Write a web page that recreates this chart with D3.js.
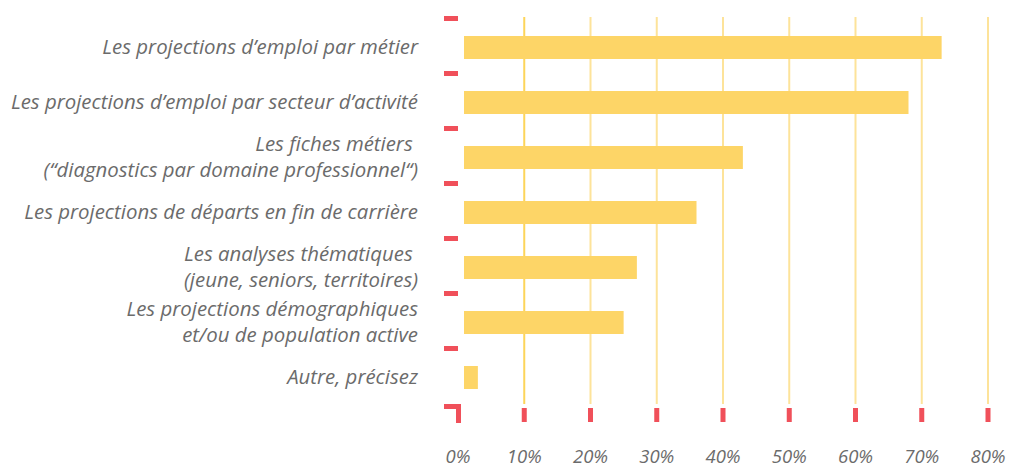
<!DOCTYPE html>
<html>
<head>
<meta charset="utf-8">
<script src="https://cdn.jsdelivr.net/npm/d3@7"></script>
<style>
  body { margin: 0; background: #fff; }
  text { font-family: "Open Sans", sans-serif; font-style: italic; fill: #6b6b6b; white-space: pre; }
</style>
</head>
<body>
<div id="canvas"></div>
<script>
const categories = [
  ["Les projections d\u2019emploi par métier"],
  ["Les projections d\u2019emploi par secteur d\u2019activité"],
  ["Les fiches métiers ", "(\u201cdiagnostics par domaine professionnel\u201c)"],
  ["Les projections de départs en fin de carrière"],
  ["Les analyses thématiques ", "(jeune, seniors, territoires)"],
  ["Les projections démographiques", "et/ou de population active"],
  ["Autre, précisez"]
];
const values = [73, 68, 43, 36, 27, 25, 3];
const ticks = [0, 10, 20, 30, 40, 50, 60, 70, 80];

const width = 1018, height = 468;
const plotLeft = 458, plotRight = 988, plotTop = 19, plotBottom = 404;

const svg = d3.select("#canvas").append("svg")
  .attr("width", width).attr("height", height);

const x = d3.scaleLinear().domain([0, 80]).range([plotLeft, plotRight]);
const y = d3.scaleBand().domain(d3.range(categories.length)).range([plotTop, plotBottom]);

// grid lines
svg.append("g")
  .selectAll("line")
  .data(ticks.slice(1))
  .join("line")
  .attr("x1", (d) => x(d)).attr("x2", (d) => x(d))
  .attr("y1", plotTop - 2).attr("y2", plotBottom)
  .attr("stroke", (d) => d == 10 ? "#fdd55a" : "#fde39a")
  .attr("stroke-width", 2);

// bars
svg.append("g")
  .selectAll("rect")
  .data(values)
  .join("rect")
  .attr("x", x(0) + 6)
  .attr("y", (d, i) => y(i) + 17)
  .attr("width", (d) => x(d) - x(0) - 6)
  .attr("height", 23)
  .attr("fill", "#fdd567");

// left red ticks at band edges
svg.append("g")
  .selectAll("rect")
  .data(d3.range(categories.length))
  .join("rect")
  .attr("x", x(0) - 14)
  .attr("y", (d) => y(d) - 3)
  .attr("width", 14)
  .attr("height", 5)
  .attr("fill", "#f0505a");

// corner
svg.append("path")
  .attr("d", `M${x(0) - 14},${plotBottom} H${x(0) + 3} V${plotBottom + 19} H${x(0) - 2} V${plotBottom + 5} H${x(0) - 14} Z`)
  .attr("fill", "#f0505a");

// bottom red ticks
svg.append("g")
  .selectAll("rect")
  .data(ticks.slice(1))
  .join("rect")
  .attr("x", (d) => x(d) - 2.5)
  .attr("y", plotBottom + 4)
  .attr("width", 5)
  .attr("height", 14)
  .attr("fill", "#f0505a");

// tick labels
svg.append("g")
  .selectAll("text")
  .data(ticks)
  .join("text")
  .attr("x", (d) => x(d))
  .attr("y", 463)
  .attr("text-anchor", "middle")
  .style("font-size", "18.5px")
  .text((d) => d + "%");

// category labels
const labels = svg.append("g")
  .selectAll("text")
  .data(categories)
  .join("text")
  .attr("text-anchor", "end")
  .style("font-size", "20.4px")
  .attr("transform", (d, i) => `translate(418,${y(i) + 28.5})`);

labels.selectAll("tspan")
  .data((d) => d.map((t, j) => [t, j, d.length]))
  .join("tspan")
  .attr("x", 0)
  .attr("y", (d) => (d[1] - (d[2] - 1) / 2) * 26 + 6.5)
  .text((d) => d[0]);
</script>
</body>
</html>
